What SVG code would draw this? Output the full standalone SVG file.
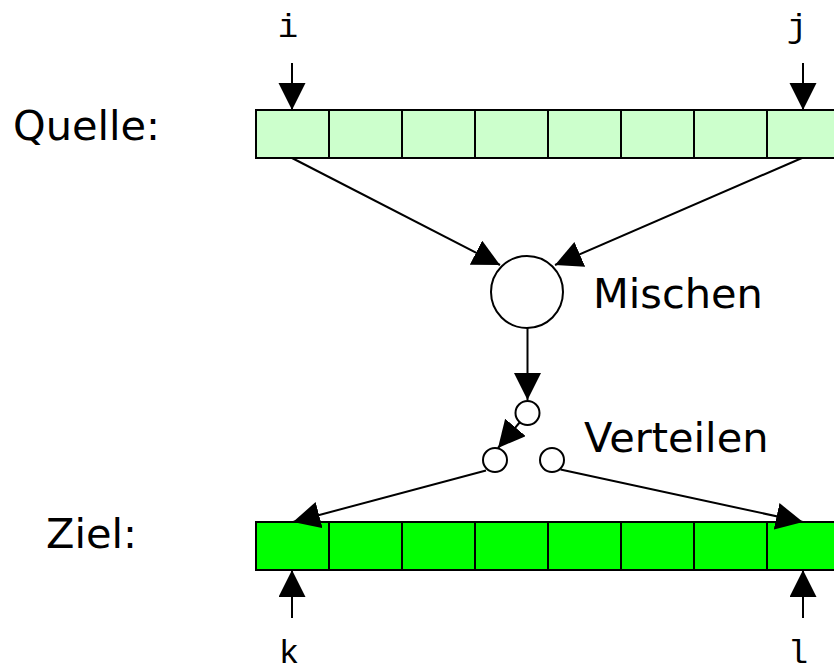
<svg xmlns="http://www.w3.org/2000/svg" width="834" height="668" viewBox="0 0 834 668">
  <style>
    .cell { stroke: #000; stroke-width: 2; }
    .src { fill: #ccffcc; }
    .dst { fill: #00ff00; }
    .node { fill: #fff; stroke: #000; stroke-width: 2; }
    .edge { stroke: #000; stroke-width: 2; fill: none; marker-end: url(#head); }
    .label { font-family: "DejaVu Sans", Verdana, sans-serif; font-size: 41.5px; fill: #000; }
    .idx { font-family: "Liberation Mono", "Courier New", monospace; font-size: 34px; fill: #000; text-anchor: middle; }
  </style>
  <defs>
    <marker id="head" markerUnits="userSpaceOnUse" markerWidth="28" markerHeight="28" refX="27" refY="13.5" orient="auto">
      <path d="M0,0 L27,13.5 L0,27 Z" fill="#000"/>
    </marker>
  </defs>
  <rect width="834" height="668" fill="#fff"/>

  <g id="quelle">
    <text class="label" x="13" y="140">Quelle:</text>
    <rect class="cell src" x="256" y="110" width="73" height="48"/>
    <rect class="cell src" x="329" y="110" width="73" height="48"/>
    <rect class="cell src" x="402" y="110" width="73" height="48"/>
    <rect class="cell src" x="475" y="110" width="73" height="48"/>
    <rect class="cell src" x="548" y="110" width="73" height="48"/>
    <rect class="cell src" x="621" y="110" width="73" height="48"/>
    <rect class="cell src" x="694" y="110" width="73" height="48"/>
    <rect class="cell src" x="767" y="110" width="73" height="48"/>
  </g>

  <g id="ziel">
    <text class="label" x="46" y="548">Ziel:</text>
    <rect class="cell dst" x="256" y="522" width="73" height="48"/>
    <rect class="cell dst" x="329" y="522" width="73" height="48"/>
    <rect class="cell dst" x="402" y="522" width="73" height="48"/>
    <rect class="cell dst" x="475" y="522" width="73" height="48"/>
    <rect class="cell dst" x="548" y="522" width="73" height="48"/>
    <rect class="cell dst" x="621" y="522" width="73" height="48"/>
    <rect class="cell dst" x="694" y="522" width="73" height="48"/>
    <rect class="cell dst" x="767" y="522" width="73" height="48"/>
  </g>

  <g id="mischen">
    <circle class="node" cx="527" cy="292" r="36"/>
    <text class="label" x="593" y="308">Mischen</text>
  </g>

  <g id="verteilen">
    <circle class="node" cx="527.5" cy="413" r="12"/>
    <circle class="node" cx="495" cy="460" r="12"/>
    <circle class="node" cx="552" cy="460" r="12"/>
    <text class="label" x="584" y="452">Verteilen</text>
  </g>

  <g id="indices">
    <text class="idx" x="288" y="37">i</text>
    <text class="idx" x="797" y="37">j</text>
    <text class="idx" x="289" y="663">k</text>
    <text class="idx" x="798" y="663">l</text>
  </g>

  <g id="connectors">
    <line class="edge" x1="292" y1="63" x2="292" y2="110"/>
    <line class="edge" x1="803" y1="63" x2="803" y2="110"/>
    <line class="edge" x1="292" y1="618" x2="292" y2="570"/>
    <line class="edge" x1="803" y1="618" x2="803" y2="570"/>
    <line class="edge" x1="292" y1="158" x2="500" y2="265"/>
    <line class="edge" x1="802" y1="158" x2="555" y2="265"/>
    <line class="edge" x1="527.5" y1="328" x2="527.5" y2="400"/>
    <line class="edge" x1="520" y1="422" x2="498" y2="448"/>
    <line class="edge" x1="486" y1="470.5" x2="293" y2="522"/>
    <line class="edge" x1="560.5" y1="469.5" x2="803" y2="522"/>
  </g>
</svg>
